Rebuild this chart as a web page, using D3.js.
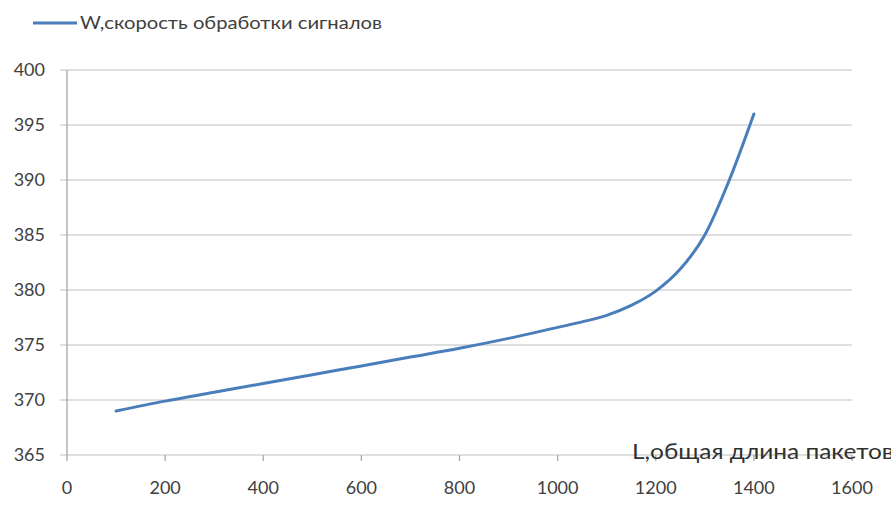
<!DOCTYPE html>
<html>
<head>
<meta charset="utf-8">
<script src="https://cdn.jsdelivr.net/npm/d3@7"></script>
<style>
  html, body { margin: 0; padding: 0; background: #fff; }
  svg { display: block; }
  text { font-family: Lato, "Open Sans", sans-serif; }
</style>
</head>
<body>
<svg id="chart" width="891" height="507"></svg>
<script>
// Total packet length L and signal processing speed W
const lengths = [100, 200, 300, 400, 500, 600, 700, 800, 900, 1000, 1050, 1100, 1150, 1200, 1250, 1300, 1350, 1400];
const speeds  = [369.0, 369.9, 370.7, 371.5, 372.3, 373.1, 373.9, 374.7, 375.6, 376.6, 377.1, 377.7, 378.6, 379.9, 381.9, 385.0, 390.0, 396.0];

const xTicks = [0, 200, 400, 600, 800, 1000, 1200, 1400, 1600];
const yTicks = [365, 370, 375, 380, 385, 390, 395, 400];

const seriesName = "W,скорость обработки сигналов";
const xTitle = "L,общая длина пакетов";

const svg = d3.select("#chart");
const plot = { left: 67, right: 852, top: 70, bottom: 455 };

const x = d3.scaleLinear().domain([0, 1600]).range([plot.left, plot.right]);
const y = d3.scaleLinear().domain([365, 400]).range([plot.bottom, plot.top]);

const gridColor = "#d4d4d4";
const axisColor = "#a8a8a8";
const textColor = "#404040";

// horizontal gridlines (with short tick stubs on the left)
svg.append("g")
  .selectAll("line")
  .data(yTicks)
  .join("line")
  .attr("x1", plot.left - 7).attr("x2", plot.right)
  .attr("y1", d => y(d)).attr("y2", d => y(d))
  .attr("stroke", gridColor)
  .attr("stroke-width", 1.6);

// vertical axis line
svg.append("line")
  .attr("x1", plot.left).attr("x2", plot.left)
  .attr("y1", plot.top).attr("y2", plot.bottom + 6)
  .attr("stroke", axisColor).attr("stroke-width", 1.3);

// x tick marks
svg.append("g")
  .selectAll("line")
  .data(xTicks.slice(1))
  .join("line")
  .attr("x1", d => x(d)).attr("x2", d => x(d))
  .attr("y1", plot.bottom).attr("y2", plot.bottom + 6)
  .attr("stroke", axisColor).attr("stroke-width", 1.3);

// y tick labels
svg.append("g")
  .selectAll("text")
  .data(yTicks)
  .join("text")
  .attr("x", 45)
  .attr("y", d => y(d))
  .attr("dy", "0.36em")
  .attr("text-anchor", "end")
  .attr("font-size", 18)
  .attr("fill", textColor)
  .text(d => d);

// x tick labels
svg.append("g")
  .selectAll("text")
  .data(xTicks)
  .join("text")
  .attr("x", d => x(d))
  .attr("y", 488)
  .attr("dy", "0.36em")
  .attr("text-anchor", "middle")
  .attr("font-size", 18)
  .attr("fill", textColor)
  .text(d => d);

// series line, smoothed
const line = d3.line()
  .x((d, i) => x(lengths[i]))
  .y(d => y(d))
  .curve(d3.curveMonotoneX);

svg.append("path")
  .datum(speeds)
  .attr("d", line)
  .attr("fill", "none")
  .attr("stroke", "#4a7ebb")
  .attr("stroke-width", 3)
  .attr("stroke-linecap", "round");

// legend
svg.append("line")
  .attr("x1", 33).attr("x2", 77)
  .attr("y1", 23).attr("y2", 23)
  .attr("stroke", "#4a7ebb").attr("stroke-width", 3);

svg.append("text")
  .attr("x", 80).attr("y", 23)
  .attr("dy", "0.36em")
  .attr("font-size", 18)
  .attr("fill", textColor)
  .attr("textLength", 302)
  .attr("lengthAdjust", "spacingAndGlyphs")
  .text(seriesName);

// x axis title
svg.append("text")
  .attr("x", 632).attr("y", 459)
  .attr("font-size", 22)
  .attr("fill", "#303030")
  .attr("textLength", 262)
  .attr("lengthAdjust", "spacingAndGlyphs")
  .text(xTitle);
</script>
</body>
</html>
